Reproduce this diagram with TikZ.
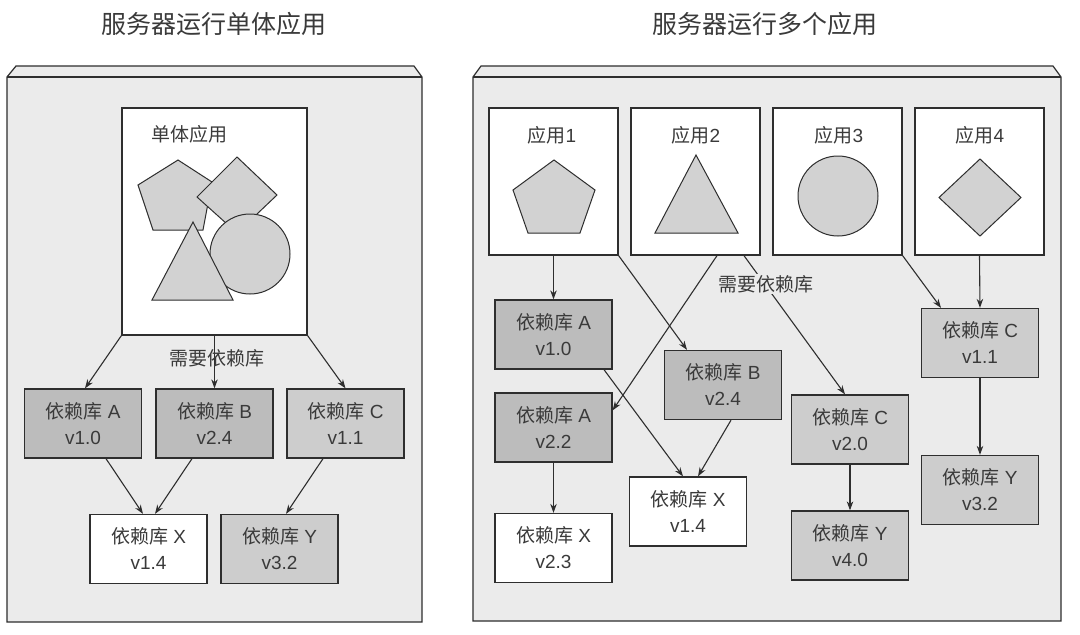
\documentclass[tikz,border=0pt]{standalone}
\usepackage{fontspec}
\setmainfont{Liberation Sans}
\newfontfamily\cjk{Noto Sans CJK SC}
\usetikzlibrary{arrows.meta,calc}
\definecolor{panelbg}{HTML}{EBEBEB}
\definecolor{inkc}{HTML}{2E2E2E}
\definecolor{textc}{HTML}{3A3A3A}
\definecolor{darkfill}{HTML}{BCBCBC}
\definecolor{midfill}{HTML}{CDCDCD}
\definecolor{shapefill}{HTML}{D2D2D2}
\tikzset{
  panel/.style={draw=inkc,line width=1.2pt,fill=panelbg},
  appbox/.style={draw=inkc,line width=1.3pt,fill=white,rectangle},
  lib/.style={draw=inkc,line width=1.3pt,rectangle,minimum width=117pt,minimum height=69pt,
     align=center,font=\fontsize{19}{26}\selectfont,text=textc,inner sep=0pt},
  libdark/.style={lib,fill=darkfill},
  libmid/.style={lib,fill=midfill},
  libwhite/.style={lib,fill=white},
  shp/.style={draw=inkc,line width=1pt,fill=shapefill},
  arr/.style={draw=inkc,line width=1.1pt,-{Stealth[length=9pt,width=6.5pt]}},
  lbl/.style={font=\fontsize{19}{21}\selectfont,text=textc,inner sep=1pt},
  ttl/.style={font=\fontsize{25}{28}\selectfont,text=textc}
}
\newcommand{\lib}{{\cjk 依赖库}}
\begin{document}
\begin{tikzpicture}[x=1pt,y=-1pt]
\useasboundingbox (0,0) rectangle (1080,635);
\fill[white] (0,0) rectangle (1080,635);
% titles
\node[ttl] (t1) at (214,24) {\cjk 服务器运行单体应用};
\node[ttl] (t2) at (765,24) {\cjk 服务器运行多个应用};
% left panel
\filldraw[panel] (7,77) -- (16,66) -- (414,66) -- (422,77) -- (422,622) -- (7,622) -- cycle;
\draw[inkc,line width=1.2pt] (7,77) -- (422,77);
% right panel
\filldraw[panel] (473,77) -- (481,66) -- (1053,66) -- (1061,77) -- (1061,621) -- (473,621) -- cycle;
\draw[inkc,line width=1.2pt] (473,77) -- (1061,77);

% ---------- left: monolith ----------
\node[appbox,minimum width=185pt,minimum height=227pt,inner sep=0pt] (mono) at (214.5,221.5) {};
\node[lbl] (monolbl) at (189,134) {\cjk 单体应用};
\filldraw[shp] (178,160) -- (138,185) -- (153,230) -- (203,230) -- (212,182) -- cycle;
\filldraw[shp] (237,157) -- (277,195) -- (237,233) -- (197,197) -- cycle;
\filldraw[shp] (250,254) circle (40);
\filldraw[shp] (193,222) -- (233,300) -- (152,300) -- cycle;

\node[libdark] (lA) at (83,423.5) {\lib{} A\\v1.0};
\node[libdark] (lB) at (214.5,423.5) {\lib{} B\\v2.4};
\node[libmid] (lC) at (345.5,423.5) {\lib{} C\\v1.1};
\node[libwhite] (lX) at (148.5,549) {\lib{} X\\v1.4};
\node[libmid] (lY) at (279.5,549) {\lib{} Y\\v3.2};

\draw[arr] (mono.south west) -- ($(lA.north)+(2,0)$);
\draw[arr] (mono.south) -- (lB.north);
\draw[arr] (mono.south east) -- (lC.north);
\node[lbl] (needL) at (217,358) {\cjk 需要依赖库};
\draw[arr] ($(lA.south)+(23,0)$) -- ($(lX.north)+(-5.5,0)$);
\draw[arr] ($(lB.south)+(-22.5,0)$) -- ($(lX.north)+(6.5,0)$);
\draw[arr] ($(lC.south)+(-22.5,0)$) -- ($(lY.north)+(6.5,0)$);

% ---------- right: apps ----------
\node[appbox,minimum width=129pt,minimum height=147pt,inner sep=0pt] (app1) at (553.5,181.5) {};
\node[appbox,minimum width=129pt,minimum height=147pt,inner sep=0pt] (app2) at (695.5,181.5) {};
\node[appbox,minimum width=129pt,minimum height=147pt,inner sep=0pt] (app3) at (837.5,181.5) {};
\node[appbox,minimum width=129pt,minimum height=147pt,inner sep=0pt] (app4) at (979.5,181.5) {};
\node[lbl] (al1) at (552,135) {{\cjk 应用}1};
\node[lbl] (al2) at (696,135) {{\cjk 应用}2};
\node[lbl] (al3) at (839,135) {{\cjk 应用}3};
\node[lbl] (al4) at (980,135) {{\cjk 应用}4};
% pentagon
\filldraw[shp] (554,160) -- (595,190) -- (580,233) -- (528,233) -- (513,190) -- cycle;
% triangle
\filldraw[shp] (696,155) -- (738,233) -- (655,233) -- cycle;
% circle
\filldraw[shp] (838,196) circle (40);
% diamond
\filldraw[shp] (980,159) -- (1021,197.5) -- (980,236) -- (939,197.5) -- cycle;

\node[libdark] (rA1) at (553.5,334.5) {\lib{} A\\v1.0};
\node[libdark] (rB) at (723,385) {\lib{} B\\v2.4};
\node[libdark] (rA2) at (553.5,427.5) {\lib{} A\\v2.2};
\node[libwhite] (rX14) at (688,511.5) {\lib{} X\\v1.4};
\node[libwhite] (rX23) at (553.5,548) {\lib{} X\\v2.3};
\node[libmid] (rC20) at (850,429.5) {\lib{} C\\v2.0};
\node[libmid] (rY40) at (850,545.5) {\lib{} Y\\v4.0};
\node[libmid] (rC11) at (980,343) {\lib{} C\\v1.1};
\node[libmid] (rY32) at (980,490) {\lib{} Y\\v3.2};

\draw[arr] (app1.south) -- (rA1.north);
\draw[arr] (app1.south east) -- ($(rB.north)+(-36,0)$);
\draw[arr] ($(app2.south)+(21.5,0)$) -- ($(rA2.north east)+(0,18)$);
\draw[arr] ($(app2.south)+(48.5,0)$) -- ($(rC20.north)+(-5,0)$);
\draw[arr] (app3.south east) -- ($(rC11.north)+(-39,0)$);
\draw[arr] (app4.south) -- (rC11.north);
\node[lbl,fill=panelbg] (needR) at (766,284) {\cjk 需要依赖库};
\draw[arr] ($(rA1.south)+(50.5,0)$) -- ($(rX14.north)+(-5,0)$);
\draw[arr] ($(rB.south)+(8,0)$) -- ($(rX14.north)+(10,0)$);
\draw[arr] (rA2.south) -- (rX23.north);
\draw[arr] (rC20.south) -- (rY40.north);
\draw[arr] (rC11.south) -- (rY32.north);
\end{tikzpicture}
\end{document}
